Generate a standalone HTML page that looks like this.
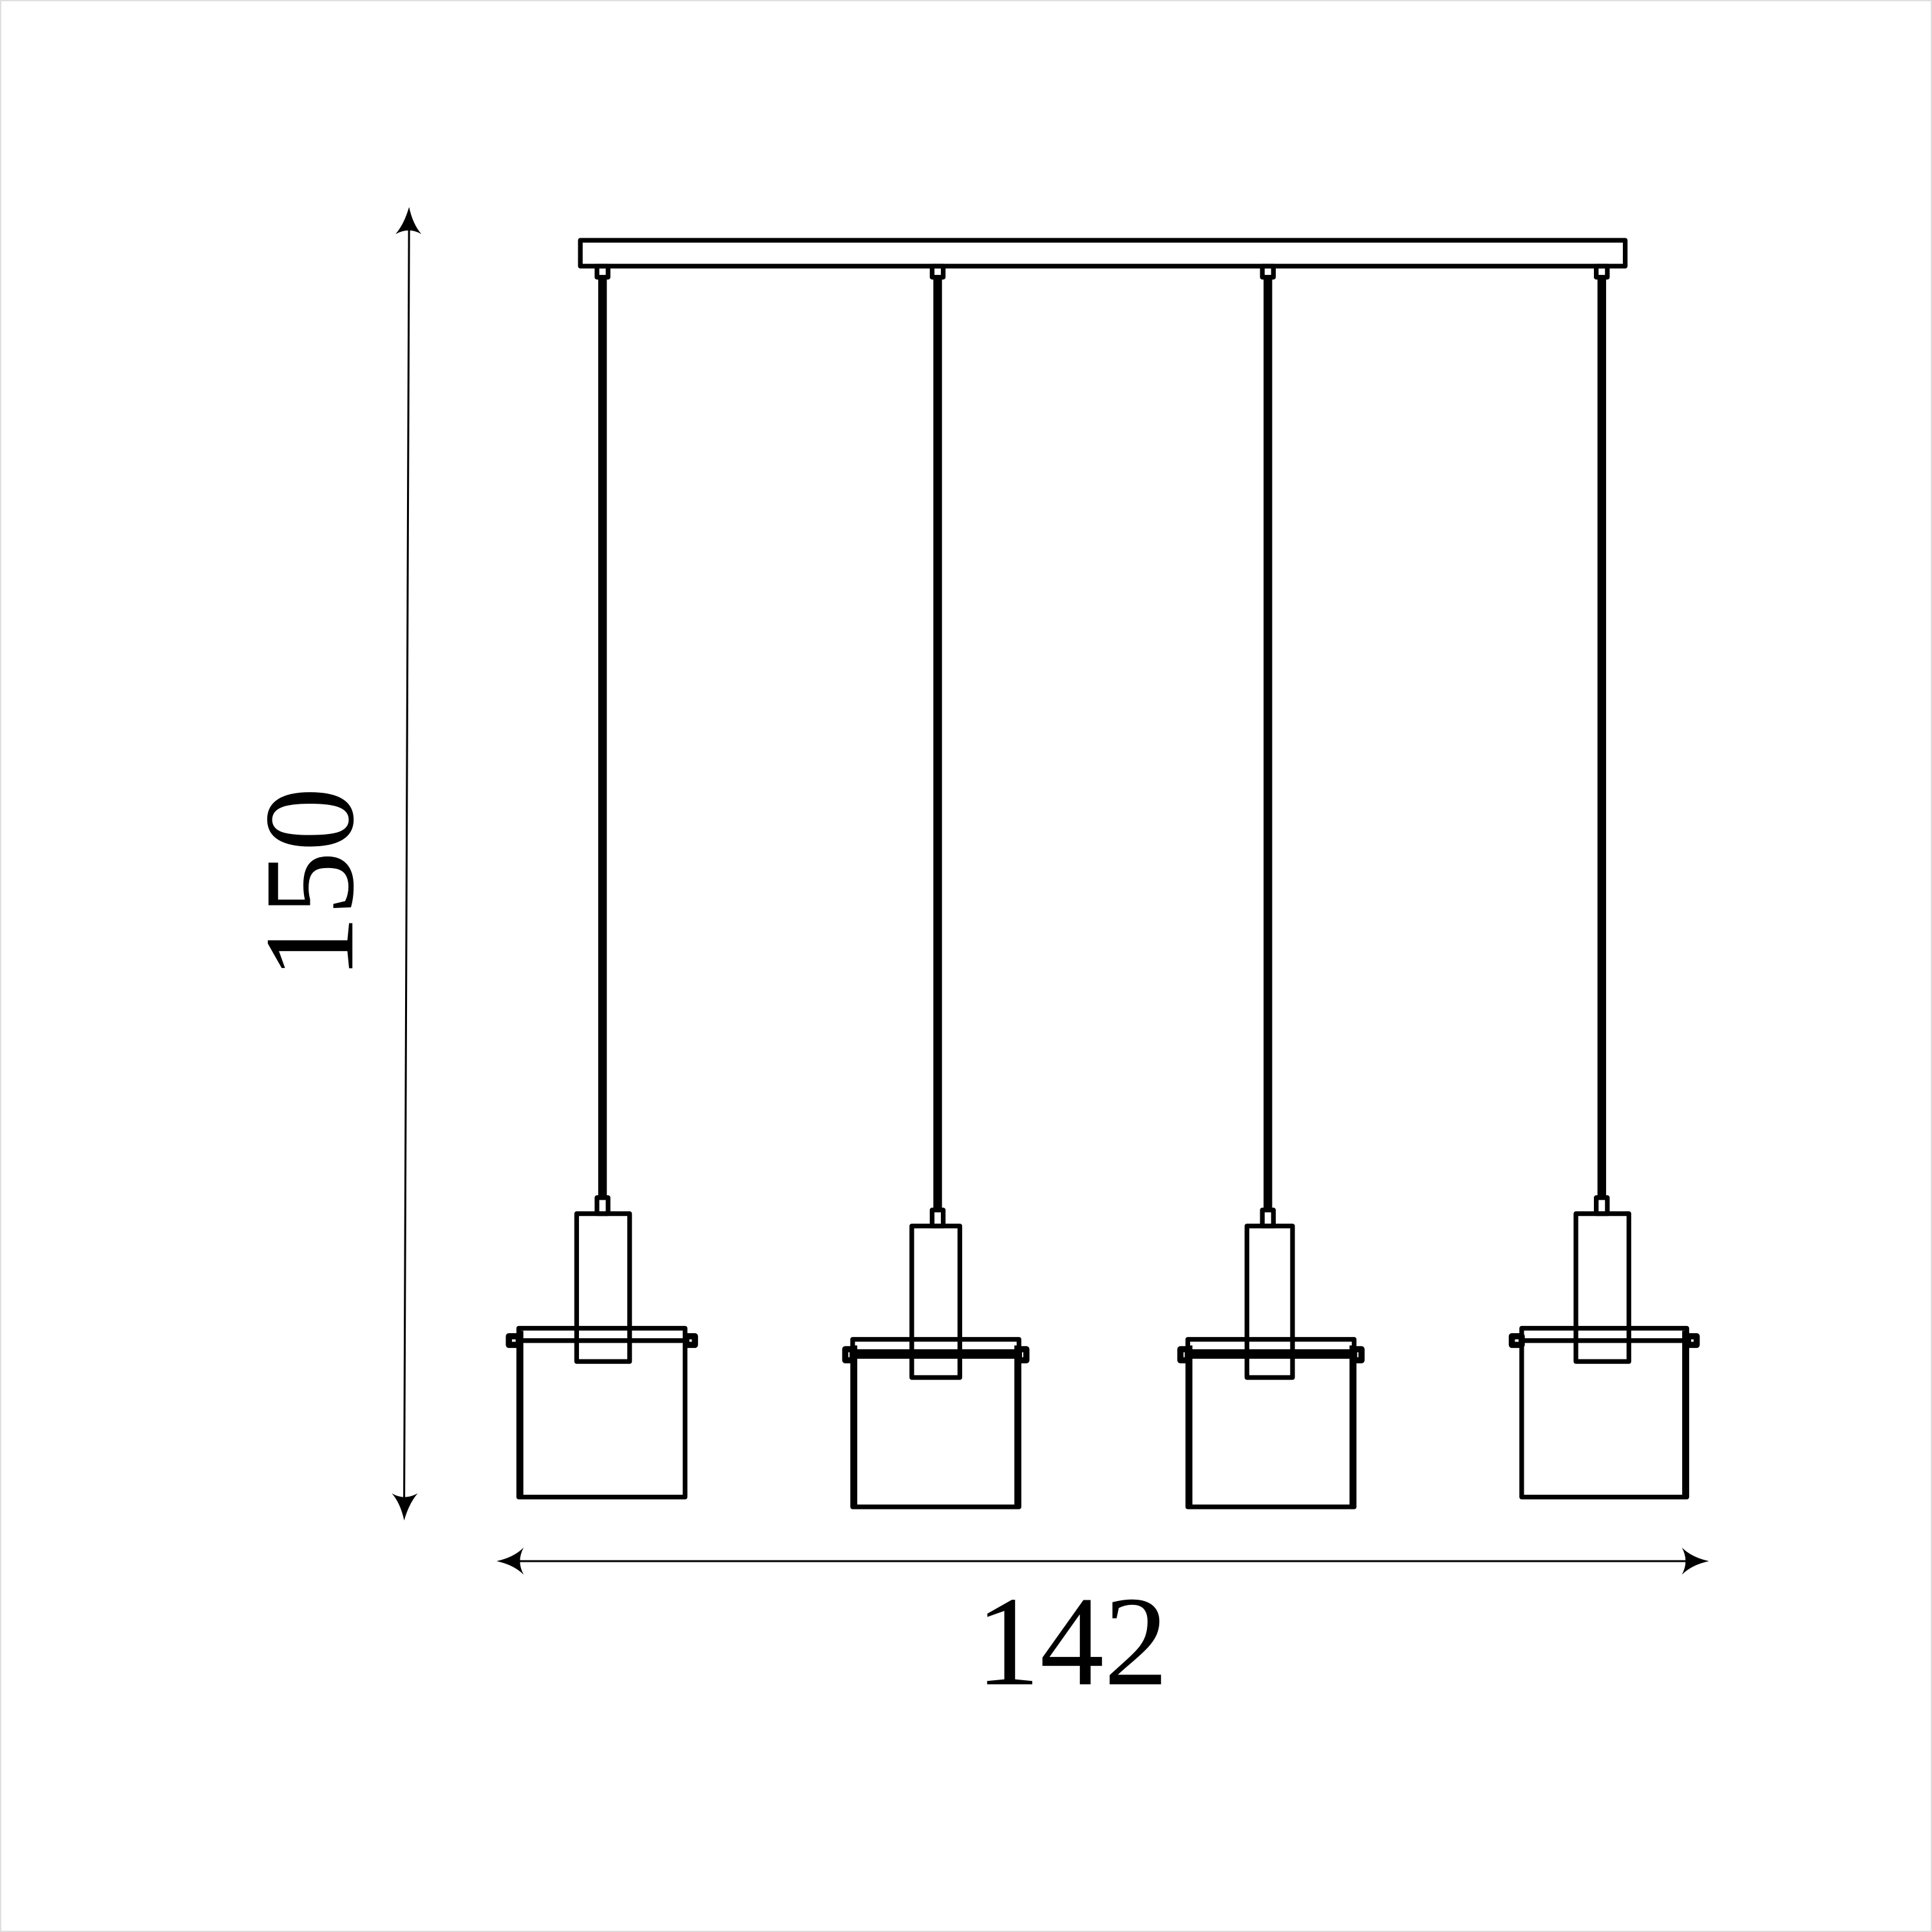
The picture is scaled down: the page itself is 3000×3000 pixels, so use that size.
<!DOCTYPE html>
<html><head><meta charset="utf-8"><style>html,body{margin:0;padding:0;background:#fff}svg{display:block}</style></head>
<body>
<svg width="3000" height="3000" viewBox="0 0 1568 1568" xmlns="http://www.w3.org/2000/svg">
<rect x="0.5" y="0.5" width="1567" height="1567" fill="none" stroke="#ddd" stroke-width="1"/>
<g fill="none" stroke="#000" stroke-width="3.8" stroke-linejoin="round">
<rect x="471" y="195" width="848" height="21"/>
<rect x="484.5" y="216" width="9" height="9"/>
<rect x="756.5" y="216" width="9" height="9"/>
<rect x="1024.5" y="216" width="9" height="9"/>
<rect x="1295.5" y="216" width="9" height="9"/>
</g>
<g stroke="#000" stroke-width="7">
<line x1="489" y1="225" x2="489" y2="972"/>
<line x1="761" y1="225" x2="761" y2="982"/>
<line x1="1029" y1="225" x2="1029" y2="982"/>
<line x1="1300" y1="225" x2="1300" y2="972"/>
</g>
<g fill="none" stroke="#000" stroke-width="3.8" stroke-linejoin="round">
<rect x="484.5" y="972" width="9" height="13"/>
<rect x="468" y="985" width="43" height="120"/>
<rect x="421" y="1078" width="135" height="10"/>
<rect x="421" y="1088" width="135" height="127"/>
<rect x="756.5" y="982" width="9" height="13"/>
<rect x="740" y="995" width="39" height="123"/>
<rect x="692" y="1087" width="135" height="10"/>
<rect x="692" y="1097" width="135" height="126"/>
<rect x="1024.5" y="982" width="9" height="13"/>
<rect x="1012" y="995" width="37" height="123"/>
<rect x="964" y="1087" width="135" height="10"/>
<rect x="964" y="1097" width="135" height="126"/>
<rect x="1295.5" y="972" width="9" height="13"/>
<rect x="1279" y="985" width="43" height="120"/>
<rect x="1235" y="1078" width="134" height="10"/>
<rect x="1235" y="1088" width="134" height="127"/>
</g>
<g fill="none" stroke="#000" stroke-width="5" stroke-linejoin="round">
<rect x="413" y="1084.5" width="8" height="7"/>
<rect x="557" y="1084.5" width="7" height="7"/>
<rect x="686" y="1095" width="6" height="9"/>
<rect x="827" y="1095" width="6" height="9"/>
<rect x="958" y="1095" width="6" height="9"/>
<rect x="1099" y="1095" width="6" height="9"/>
<rect x="1227" y="1084.5" width="8" height="7"/>
<rect x="1370" y="1084.5" width="7" height="7"/>
</g>
<g stroke="#000" stroke-width="5.5">
<line x1="422" y1="1080" x2="422" y2="1215"/>
<line x1="693" y1="1092" x2="693" y2="1223"/>
<line x1="826" y1="1092" x2="826" y2="1223"/>
<line x1="965" y1="1092" x2="965" y2="1223"/>
<line x1="1098" y1="1092" x2="1098" y2="1223"/>
<line x1="1368" y1="1080" x2="1368" y2="1215"/>
<line x1="693" y1="1100" x2="826" y2="1100"/>
<line x1="965" y1="1100" x2="1098" y2="1100"/>
</g>
<g stroke="#000" stroke-width="1.6">
<line x1="332" y1="180" x2="328" y2="1222"/>
<line x1="414" y1="1267" x2="1376" y2="1267"/>
</g>
<g fill="#000">
<path d="M332,168 Q335,182 342,190 Q332,184 321,190 Q328,182 332,168Z"/>
<path d="M328,1234 Q325,1220 318,1212 Q328,1218 339,1212 Q332,1220 328,1234Z"/>
<path d="M403,1267 Q417,1264 425,1256 Q419,1267 425,1278 Q417,1270 403,1267Z"/>
<path d="M1387,1267 Q1373,1264 1365,1256 Q1371,1267 1365,1278 Q1373,1270 1387,1267Z"/>
</g>
<text x="870" y="1367" font-family="Liberation Serif, serif" font-size="104" text-anchor="middle" fill="#000">142</text>
<text transform="translate(286,717) rotate(-90)" x="0" y="0" font-family="Liberation Serif, serif" font-size="104" text-anchor="middle" fill="#000">150</text>
</svg>
</body></html>
